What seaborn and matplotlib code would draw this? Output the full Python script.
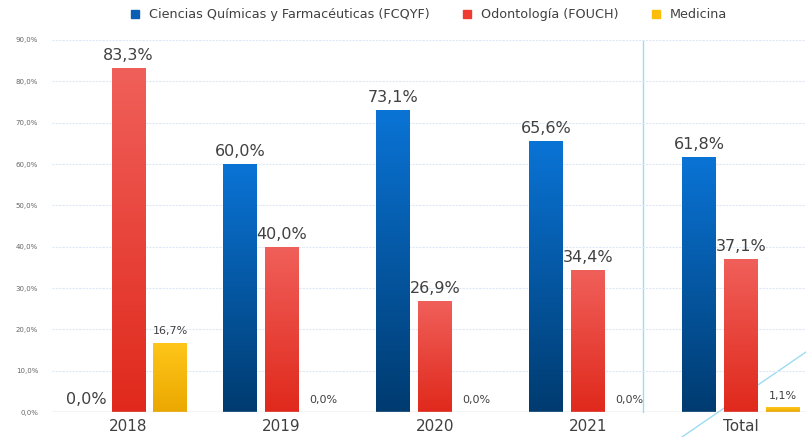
import numpy as np
import pandas as pd
import matplotlib
matplotlib.use("Agg")
import matplotlib.pyplot as plt
import seaborn as sns
from matplotlib.colors import LinearSegmentedColormap
from matplotlib.lines import Line2D

categories = ["2018", "2019", "2020", "2021", "Total"]
series = ["Ciencias Químicas y Farmacéuticas (FCQYF)", "Odontología (FOUCH)", "Medicina"]
fcqyf = [0.0, 60.0, 73.1, 65.6, 61.8]
fouch = [83.3, 40.0, 26.9, 34.4, 37.1]
medicina = [16.7, 0.0, 0.0, 0.0, 1.1]
yticks = [0, 10, 20, 30, 40, 50, 60, 70, 80, 90]

rows = []
for s, vals in zip(series, [fcqyf, fouch, medicina]):
    for c, v in zip(categories, vals):
        rows.append({"cat": c, "serie": s, "valor": v})
df = pd.DataFrame(rows)

sns.set_theme(style="white")
plt.rcParams["font.family"] = ["DejaVu Sans"]

top_cols = {series[0]: "#0a74d6", series[1]: "#f0605a", series[2]: "#ffc61a"}
bot_cols = {series[0]: "#003b70", series[1]: "#e0291c", series[2]: "#eba800"}
legend_cols = {series[0]: "#0a5fb4", series[1]: "#ee3a30", series[2]: "#fbbd08"}

fig = plt.figure(figsize=(8.06, 4.37), dpi=100)
ax = fig.add_axes([52/806, 25/437, 765.5/806, 372/437])
ax.patch.set_alpha(0)

sns.barplot(data=df, x="cat", y="valor", hue="serie", order=categories,
            hue_order=series, palette=legend_cols, width=0.82, gap=0.19,
            ax=ax, legend=False, edgecolor="none", zorder=3)

ax.set_ylim(0, 90)
ax.set_xlim(-0.5, 4.5)
ax.set_yticks(yticks)
ax.set_yticklabels([f"{t:.1f}%".replace(".", ",") for t in yticks], fontsize=5, color="#666666")
ax.tick_params(axis="y", length=0, pad=10)
ax.tick_params(axis="x", length=0, pad=5, labelsize=11, labelcolor="#404040")
ax.set_xlabel("")
ax.set_ylabel("")
for sp in ax.spines.values():
    sp.set_visible(False)
ax.axhline(0, color="#d0d0d0", lw=1.0, zorder=4)
ax.yaxis.grid(True, color="#dfe8f7", lw=0.8, ls=(0, (2, 1)), zorder=0)

# gradient fills and labels
n = len(categories)
for si, s in enumerate(series):
    cmap = LinearSegmentedColormap.from_list(s, [bot_cols[s], top_cols[s]])
    grad = np.linspace(0, 1, 256).reshape(-1, 1)
    for ci in range(n):
        p = ax.patches[si * n + ci]
        x0, y0 = p.get_x(), p.get_y()
        w, h = p.get_width(), p.get_height()
        if h > 0:
            p.set_facecolor("none")
            im = ax.imshow(grad, cmap=cmap, origin="lower", aspect="auto",
                           extent=[x0, x0 + w, y0, y0 + h], zorder=3)
            im.set_clip_path(p)
        v = [fcqyf, fouch, medicina][si][ci]
        lab = f"{v:.1f}%".replace(".", ",")
        fs = 11.5 if si < 2 else 8
        off = 1.2 if si < 2 else 1.6
        ax.text(x0 + w / 2, h + off, lab, ha="center", va="bottom",
                fontsize=fs, color="#404040", zorder=5)
ax.set_xlim(-0.5, 4.5)
ax.set_ylim(0, 90)

# legend
handles = [Line2D([], [], marker="s", ls="none", color=legend_cols[s], markersize=5.5) for s in series]
fig.legend(handles, series, loc="center", bbox_to_anchor=(0.527, 0.966), ncol=3,
           frameon=False, fontsize=9.2, handletextpad=0.1, columnspacing=1.9,
           labelcolor="#404040")

# decorative cyan lines (behind the axes content)
fig.add_artist(Line2D([643/806, 643/806], [1 - 40/437, 1 - 412/437], color="#9cdcf2", lw=1.0, zorder=-1))
fig.add_artist(Line2D([682/806, 806/806], [0, 1 - 352/437], color="#9cdcf2", lw=1.0, zorder=-1))

fig.savefig("out.png", dpi=100)
